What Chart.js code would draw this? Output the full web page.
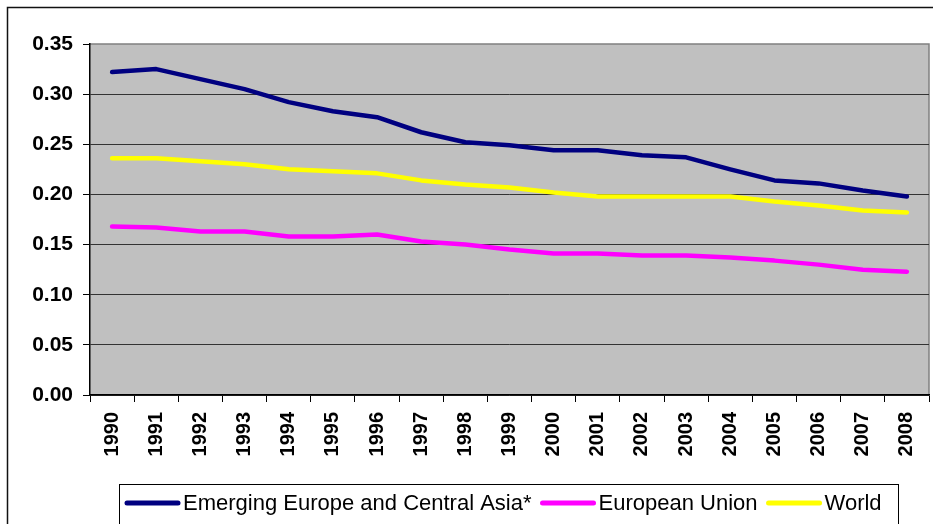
<!DOCTYPE html>
<html>
<head>
<meta charset="utf-8">
<script src="https://cdn.jsdelivr.net/npm/chart.js@4.4.1/dist/chart.umd.min.js"></script>
<style>
  body { margin: 0; background: #fff; }
  canvas { display: block; }
</style>
</head>
<body>
<canvas id="chart" width="933" height="524"></canvas>
<script>
'use strict';
let years = ['1990', '1991', '1992', '1993', '1994', '1995', '1996', '1997', '1998', '1999',
  '2000', '2001', '2002', '2003', '2004', '2005', '2006', '2007', '2008'];
let emergingEurope = [0.322, 0.325, 0.315, 0.305, 0.292, 0.283, 0.277, 0.262, 0.252, 0.249,
  0.244, 0.244, 0.239, 0.237, 0.225, 0.214, 0.211, 0.204, 0.198];
let europeanUnion = [0.168, 0.167, 0.163, 0.163, 0.158, 0.158, 0.160, 0.153, 0.150, 0.145,
  0.141, 0.141, 0.139, 0.139, 0.137, 0.134, 0.130, 0.125, 0.123];
let world = [0.236, 0.236, 0.233, 0.230, 0.225, 0.223, 0.221, 0.214, 0.210, 0.207,
  0.202, 0.198, 0.198, 0.198, 0.198, 0.193, 0.189, 0.184, 0.182];
let seriesNames = ['Emerging Europe and Central Asia*', 'European Union', 'World'];
let seriesColors = ['#000080', '#FF00FF', '#FFFF00'];
let yTicks = [0, 0.05, 0.1, 0.15, 0.2, 0.25, 0.3, 0.35];

// grey plot area + outer frame + boxed legend
const framePlugin = {
  id: 'frame',
  beforeDraw(chart) {
    const ctx = chart.ctx;
    const a = chart.chartArea;
    ctx.save();
    ctx.fillStyle = '#fff';
    ctx.fillRect(0, 0, chart.width, chart.height);
    ctx.fillStyle = '#C0C0C0';
    ctx.fillRect(a.left, a.top, a.right - a.left, a.bottom - a.top);
    ctx.strokeStyle = '#808080';
    ctx.lineWidth = 1.5;
    ctx.beginPath();
    ctx.moveTo(a.left, a.top);
    ctx.lineTo(a.right, a.top);
    ctx.lineTo(a.right, a.bottom);
    ctx.stroke();
    ctx.restore();
  },
  afterDraw(chart) {
    const ctx = chart.ctx;
    ctx.save();
    ctx.strokeStyle = '#111';
    ctx.lineWidth = 1.5;
    ctx.strokeRect(7.5, 7.5, 960, 560);
    // legend
    ctx.lineWidth = 1;
    ctx.strokeStyle = '#000';
    ctx.strokeRect(119.5, 484.5, 779, 60);
    ctx.font = '22px "Liberation Sans", Arial, sans-serif';
    ctx.textBaseline = 'middle';
    ctx.fillStyle = '#000';
    let x = 127;
    const y = 503;
    chart.data.datasets.forEach(ds => {
      ctx.strokeStyle = ds.borderColor;
      ctx.lineWidth = 5;
      ctx.lineCap = 'round';
      ctx.beginPath();
      ctx.moveTo(x, y);
      ctx.lineTo(x + 51, y);
      ctx.stroke();
      x += 56;
      ctx.fillText(ds.label, x, y + 1);
      x += ctx.measureText(ds.label).width + 11;
    });
    ctx.restore();
  }
};

new Chart(document.getElementById('chart'), {
  type: 'line',
  data: {
    labels: years,
    datasets: [
      { label: seriesNames[0], data: emergingEurope, borderColor: seriesColors[0] },
      { label: seriesNames[1], data: europeanUnion, borderColor: seriesColors[1] },
      { label: seriesNames[2], data: world, borderColor: seriesColors[2] }
    ]
  },
  options: {
    responsive: false,
    animation: false,
    devicePixelRatio: 1,
    layout: { padding: { left: 0, top: 44, right: 4, bottom: 0 } },
    elements: {
      line: { borderWidth: 4.5, tension: 0, borderCapStyle: 'round', borderJoinStyle: 'round' },
      point: { radius: 0, hoverRadius: 0 }
    },
    plugins: {
      legend: { display: false },
      tooltip: { enabled: false }
    },
    scales: {
      x: {
        offset: true,
        grid: { offset: true, drawOnChartArea: false, tickLength: 7, tickColor: '#000' },
        border: { color: '#000', width: 1.5 },
        ticks: {
          minRotation: 90,
          maxRotation: 90,
          padding: 10,
          color: '#000',
          font: { family: '"Liberation Sans", Arial, sans-serif', size: 20, weight: 'bold' }
        },
        afterFit(scale) {
          scale.height = 129;
          scale.paddingRight = 0;
          scale.paddingLeft = 0;
        }
      },
      y: {
        min: 0,
        max: 0.35,
        afterBuildTicks(scale) { scale.ticks = yTicks.map(v => ({ value: v })); },
        grid: {
          color: ctx => (ctx.tick && ctx.tick.value === 0.35 ? 'rgba(0,0,0,0)' : '#333'),
          lineWidth: 1,
          tickLength: 7,
          tickColor: '#000'
        },
        border: { color: '#000', width: 1.5 },
        ticks: {
          padding: 10,
          color: '#000',
          callback: v => Number(v).toFixed(2),
          font: { family: '"Liberation Sans", Arial, sans-serif', size: 21, weight: 'bold' }
        },
        afterFit(scale) { scale.width = 90; }
      }
    }
  },
  plugins: [framePlugin]
});
</script>
</body>
</html>
